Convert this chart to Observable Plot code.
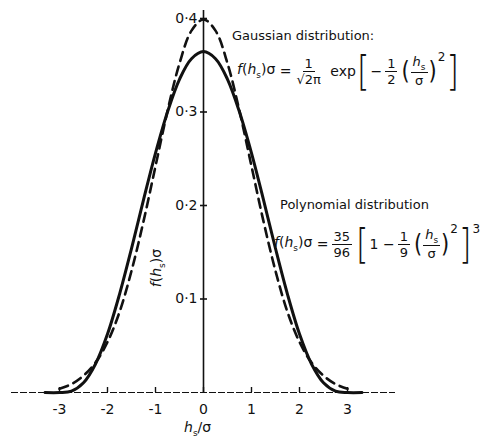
<!DOCTYPE html>
<html>
<head>
<meta charset="utf-8">
<script src="https://cdn.jsdelivr.net/npm/d3@7"></script>
<script src="https://cdn.jsdelivr.net/npm/@observablehq/plot@0.6"></script>
<style>
  html, body { margin: 0; padding: 0; background: #fff; }
  #wrap { position: relative; width: 482px; height: 439px; font-family: "DejaVu Sans", sans-serif; color: #111; }
  #wrap svg { display: block; }
  .note { position: absolute; white-space: nowrap; font-size: 13px; line-height: 1; }
  .eq { position: absolute; white-space: nowrap; font-size: 14px; display: flex; align-items: center; line-height: 1; }
  .frac { display: inline-flex; flex-direction: column; align-items: center; margin: 0 3px; font-size: 13px; }
  .frac > span { padding: 1px 2px; }
  .frac > span:first-child { border-bottom: 1.5px solid #111; }
  .it { font-style: italic; }
  .big { display: inline-block; font-size: 32px; transform: scaleY(1.25); font-weight: 300; margin: 0 1px; }
  .mid { display: inline-block; font-size: 21px; transform: scaleY(1.2); margin: 0 1px; }
  .sup { align-self: flex-start; font-size: 12px; margin-top: 1px; }
  .title { position: absolute; white-space: nowrap; font-size: 14px; line-height: 1; }
  sub { font-size: 9px; }
</style>
</head>
<body>
<div id="wrap"></div>
<script>
// Probability density f(h_s)σ against h_s/σ for the two height distributions.
const xTicks = [-3, -2, -1, 0, 1, 2, 3];
const xTickLabels = ["-3", "-2", "-1", "0", "1", "2", "3"];
const yTicks = [0.1, 0.2, 0.3, 0.4];
const yTickLabels = ["0·1", "0·2", "0·3", "0·4"];

// Gaussian distribution (dashed)
const gaussX = [-3, -2.75, -2.5, -2.25, -2, -1.75, -1.5, -1.25, -1, -0.75, -0.5, -0.25, 0,
                0.25, 0.5, 0.75, 1, 1.25, 1.5, 1.75, 2, 2.25, 2.5, 2.75, 3];
const gaussY = [0.004, 0.009, 0.018, 0.032, 0.054, 0.086, 0.130, 0.183, 0.242, 0.301, 0.352, 0.387, 0.399,
                0.387, 0.352, 0.301, 0.242, 0.183, 0.130, 0.086, 0.054, 0.032, 0.018, 0.009, 0.004];

// Polynomial distribution (solid), zero beyond |h_s/σ| = 3
const polyX = [-3.3, -3, -2.75, -2.5, -2.25, -2, -1.75, -1.5, -1.25, -1, -0.75, -0.5, -0.25, 0,
               0.25, 0.5, 0.75, 1, 1.25, 1.5, 1.75, 2, 2.25, 2.5, 2.75, 3, 3.3];
const polyY = [0, 0, 0.0015, 0.0104, 0.0305, 0.0625, 0.105, 0.154, 0.206, 0.256, 0.300, 0.335, 0.357, 0.3646,
               0.357, 0.335, 0.300, 0.256, 0.206, 0.154, 0.105, 0.0625, 0.0305, 0.0104, 0.0015, 0, 0];

const ink = "#111";

const chart = Plot.plot({
  width: 482,
  height: 439,
  marginLeft: 11,
  marginRight: 87,
  marginTop: 18,
  marginBottom: 47,
  x: { domain: [-4, 4], axis: null },
  y: { domain: [0, 0.4], axis: null },
  style: { fontFamily: "DejaVu Sans, sans-serif", fontSize: "14px", color: ink, background: "#fff" },
  marks: [
    // horizontal axis along f = 0
    Plot.ruleY([0], { stroke: ink, strokeWidth: 1.2, strokeDasharray: "7,2" }),
    // vertical axis at h_s/σ = 0
    Plot.ruleX([0], { stroke: ink, strokeWidth: 1.6, insetTop: -8 }),
    // ticks on the vertical axis
    Plot.ruleY(yTicks, { x1: 0, x2: 0, insetLeft: -3, insetRight: -4, stroke: ink, strokeWidth: 1.6 }),
    Plot.text(yTicks, { x: 0, y: d => d, text: (d, i) => yTickLabels[i], textAnchor: "end", dx: -6, fill: ink, fontSize: 14 }),
    // ticks on the horizontal axis
    Plot.ruleX(xTicks, { y1: 0, y2: 0, insetTop: -5, stroke: ink, strokeWidth: 1.4 }),
    Plot.text(xTicks, { x: d => d, y: 0, text: (d, i) => xTickLabels[i], dy: 17, fill: ink, fontSize: 14 }),
    // curves
    Plot.line(polyY, { x: polyX, y: polyY, curve: "catmull-rom", stroke: ink, strokeWidth: 3 }),
    Plot.line(gaussY, { x: gaussX, y: gaussY, curve: "catmull-rom", stroke: ink, strokeWidth: 2.6, strokeDasharray: "9,6" })
  ]
});

const wrap = document.getElementById("wrap");
wrap.appendChild(chart);

const hs = '<span class="it">h</span><sub>s</sub>';
const fhs = '<span><span class="it">f</span>(' + hs + ')σ</span>';

const html = `
  <div class="note" style="left:232px; top:29px;">Gaussian distribution:</div>
  <div class="eq" style="left:237px; top:50px; height:42px;">
    ${fhs}<span>&nbsp;=</span>
    <span class="frac"><span>1</span><span>√2π</span></span>
    <span>&nbsp;exp</span>
    <span class="big">[</span><span>−</span>
    <span class="frac"><span>1</span><span>2</span></span>
    <span class="mid">(</span><span class="frac" style="margin:0"><span>${hs}</span><span>σ</span></span><span class="mid">)</span>
    <span class="sup">2</span>
    <span class="big">]</span>
  </div>
  <div class="note" style="left:280px; top:198px;">Polynomial distribution</div>
  <div class="eq" style="left:274px; top:222px; height:44px;">
    ${fhs}<span>&nbsp;=</span>
    <span class="frac"><span>35</span><span>96</span></span>
    <span class="big">[</span><span>1 −</span>
    <span class="frac"><span>1</span><span>9</span></span>
    <span class="mid">(</span><span class="frac" style="margin:0"><span>${hs}</span><span>σ</span></span><span class="mid">)</span>
    <span class="sup">2</span>
    <span class="big">]</span><span class="sup">3</span>
  </div>
  <div class="title" style="left:184px; top:420px;">${hs}/σ</div>
  <div class="title" style="left:158px; top:268px; transform: translate(-50%, -50%) rotate(-90deg);">${fhs}</div>
`;
wrap.insertAdjacentHTML("beforeend", html);
</script>
</body>
</html>
